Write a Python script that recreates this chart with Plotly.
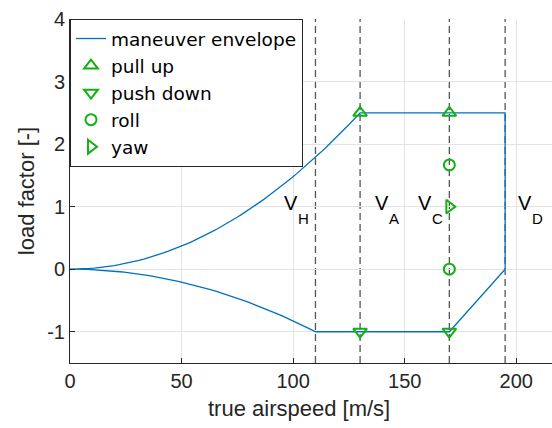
import numpy as np
import plotly.graph_objects as go

# Characteristic speeds [m/s]
v_h = 110
v_a = 130
v_c = 170
v_d = 195
n_max = 2.5
n_min = -1.0

# Envelope corner/curve samples
v_upper = np.linspace(0, v_a, 60)
n_upper = n_max * (v_upper / v_a) ** 2
v_lower = np.linspace(0, v_h, 60)
n_lower = n_min * (v_lower / v_h) ** 2

env_v = list(v_upper) + [v_d, v_d, v_c, v_h] + list(v_lower[::-1])
env_n = list(n_upper) + [n_max, 0.0, n_min, n_min] + list(n_lower[::-1])

# Manoeuvre test points
pull_v = [v_a, v_c]
pull_n = [n_max, n_max]
push_v = [v_a, v_c]
push_n = [n_min, n_min]
roll_v = [v_c, v_c]
roll_n = [n_max * 2 / 3, 0.0]
yaw_v = [v_c]
yaw_n = [1.0]

# Speed labels
label_names = ["H", "A", "C", "D"]
label_x = [95, 136, 155, 200]
label_y = 1.0

xticks = [0, 50, 100, 150, 200]
yticks = [-1, 0, 1, 2, 3, 4]

green = "#13B013"
blue = "#0072BD"
font = "Liberation Sans, Arial, sans-serif"
txt = "#262626"

fig = go.Figure()
fig.add_trace(go.Scatter(x=env_v, y=env_n, mode="lines", name="maneuver envelope",
                         line=dict(color=blue, width=1.3)))
mk = dict(size=12, color=green, line=dict(color=green, width=2))
fig.add_trace(go.Scatter(x=pull_v, y=pull_n, mode="markers", name="pull up",
                         marker=dict(symbol="triangle-up-open", **mk)))
fig.add_trace(go.Scatter(x=push_v, y=push_n, mode="markers", name="push down",
                         marker=dict(symbol="triangle-down-open", **mk)))
fig.add_trace(go.Scatter(x=roll_v, y=roll_n, mode="markers", name="roll",
                         marker=dict(symbol="circle-open", size=11, color=green,
                                     line=dict(color=green, width=2))))
fig.add_trace(go.Scatter(x=yaw_v, y=yaw_n, mode="markers", name="yaw",
                         marker=dict(symbol="triangle-right-open", **mk)))

for v in [v_h, v_a, v_c, v_d]:
    fig.add_shape(type="line", x0=v, x1=v, y0=0, y1=1, xref="x", yref="paper",
                  line=dict(color="#555555", width=1.3, dash="7px,4px"), layer="below")

# "V" with a lowered subscript letter
for name, x in zip(label_names, label_x):
    fig.add_annotation(x=x, y=label_y, xanchor="left", yanchor="middle", showarrow=False,
                       yshift=4, text="V", font=dict(size=20, color="black", family=font))
    fig.add_annotation(x=x, y=label_y, xanchor="left", yanchor="middle", showarrow=False,
                       xshift=14, yshift=-12, text=name,
                       font=dict(size=15, color="black", family=font))

# x-axis title
fig.add_annotation(x=0.475, y=0, xref="paper", yref="paper", yshift=-45,
                   xanchor="center", yanchor="middle", showarrow=False,
                   text="true airspeed [m/s]", font=dict(size=22, color=txt, family=font))

fig.update_layout(
    width=552, height=428,
    margin=dict(l=70, r=0, t=19, b=65),
    paper_bgcolor="white", plot_bgcolor="white",
    font=dict(family=font, size=20, color=txt),
    showlegend=True,
    legend=dict(x=0, y=1, xanchor="left", yanchor="top", bgcolor="white",
                bordercolor="#262626", borderwidth=1,
                font=dict(size=18.5, color="black", family="DejaVu Sans, sans-serif"),
                tracegroupgap=0, itemwidth=30),
    xaxis=dict(range=[0, 216], tickvals=xticks, ticktext=[str(t) for t in xticks],
               showgrid=True, gridcolor="#e3e3e3", zeroline=False,
               showline=True, linecolor="#262626", ticks="inside", ticklen=5,
               tickcolor="#262626", tickfont=dict(size=20)),
    yaxis=dict(range=[-1.5, 4], tickvals=yticks, ticktext=[str(t) for t in yticks],
               showgrid=True, gridcolor="#e3e3e3", zeroline=False,
               showline=True, linecolor="#262626", ticks="inside", ticklen=5,
               tickcolor="#262626", tickfont=dict(size=20),
               title=dict(text="load factor [-]", font=dict(size=22, color=txt), standoff=6)),
)

fig.write_html("out.html")
